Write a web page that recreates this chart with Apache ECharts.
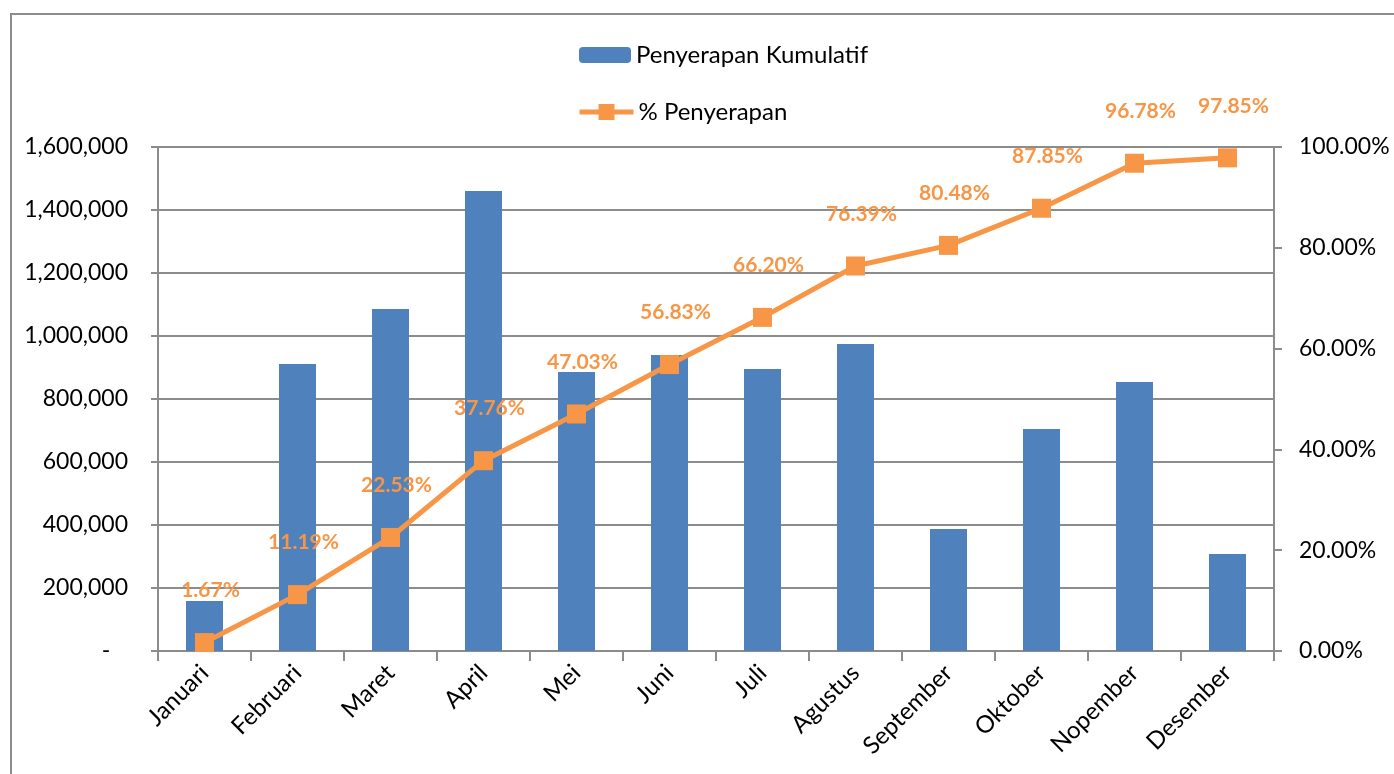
<!DOCTYPE html>
<html>
<head>
<meta charset="utf-8">
<script src="https://cdn.jsdelivr.net/npm/echarts@6/dist/echarts.min.js"></script>
<style>
  html, body { margin: 0; padding: 0; background: #fff; }
  #chart { width: 1394px; height: 774px; }
</style>
</head>
<body>
<div id="chart"></div>
<script>
// data
var months = ['Januari', 'Februari', 'Maret', 'April', 'Mei', 'Juni', 'Juli',
  'Agustus', 'September', 'Oktober', 'Nopember', 'Desember']
var kumulatif = [159000, 911000, 1086000, 1460000, 886000, 940000, 895000,
  975000, 387000, 705000, 854000, 308000]
var persen = [1.67, 11.19, 22.53, 37.76, 47.03, 56.83, 66.20, 76.39, 80.48, 87.85, 96.78, 97.85]

var font = 'Lato'
var chart = echarts.init(document.getElementById('chart'))

var option = {
  animation: false,
  textStyle: { fontFamily: font },
  graphic: [{
    type: 'rect',
    shape: { x: 11, y: 14, width: 1400, height: 800 },
    style: { fill: 'none', stroke: '#8c8c8c', lineWidth: 2 },
    silent: true
  }],
  legend: [{
    data: ['Penyerapan Kumulatif'],
    left: 574, top: 38,
    itemWidth: 52, itemHeight: 16, itemGap: 6,
    itemStyle: { borderRadius: 0 },
    textStyle: { fontFamily: font, fontSize: 24, color: '#000' }
  }, {
    data: ['% Penyerapan'],
    left: 572, top: 95,
    itemWidth: 54, itemHeight: 20,
    lineStyle: { width: 5 },
    textStyle: { fontFamily: font, fontSize: 24, color: '#000' }
  }],
  grid: { left: 158, right: 120, top: 147, bottom: 123 },
  xAxis: {
    type: 'category',
    data: months,
    axisLine: { lineStyle: { color: '#8c8c8c', width: 2 } },
    axisTick: { show: true, length: 10, lineStyle: { color: '#8c8c8c', width: 2 } },
    axisLabel: { rotate: 45, fontSize: 24, color: '#000', margin: 18 }
  },
  yAxis: [{
    type: 'value',
    min: 0, max: 1600000, interval: 200000,
    axisLine: { show: true, lineStyle: { color: '#8c8c8c', width: 2 } },
    axisTick: { show: true, length: 7, lineStyle: { color: '#8c8c8c', width: 2 } },
    splitLine: { lineStyle: { color: '#8c8c8c', width: 2 } },
    axisLabel: {
      fontSize: 23, color: '#000', margin: 30,
      formatter: function (v) {
        if (v === 0) return '-   '
        return v.toLocaleString('en-US')
      }
    }
  }, {
    type: 'value',
    min: 0, max: 100, interval: 20,
    axisLine: { show: true, lineStyle: { color: '#8c8c8c', width: 2 } },
    axisTick: { show: true, length: 8, lineStyle: { color: '#8c8c8c', width: 2 } },
    splitLine: { show: false },
    axisLabel: {
      fontSize: 23, color: '#000', margin: 25,
      formatter: function (v) { return v.toFixed(2) + '%' }
    }
  }],
  series: [{
    name: 'Penyerapan Kumulatif',
    type: 'bar',
    data: kumulatif,
    barWidth: 37,
    itemStyle: { color: '#4F81BD' }
  }, {
    name: '% Penyerapan',
    type: 'line',
    yAxisIndex: 1,
    data: persen,
    symbol: 'rect',
    symbolSize: 19,
    lineStyle: { color: '#F79646', width: 5 },
    itemStyle: { color: '#F79646' },
    label: {
      show: true,
      position: 'top',
      distance: 32,
      offset: [6, 0],
      color: '#F79646',
      fontWeight: 'bold',
      fontSize: 21,
      formatter: function (p) { return p.value.toFixed(2) + '%' }
    }
  }]
}

chart.setOption(option)
</script>
</body>
</html>
